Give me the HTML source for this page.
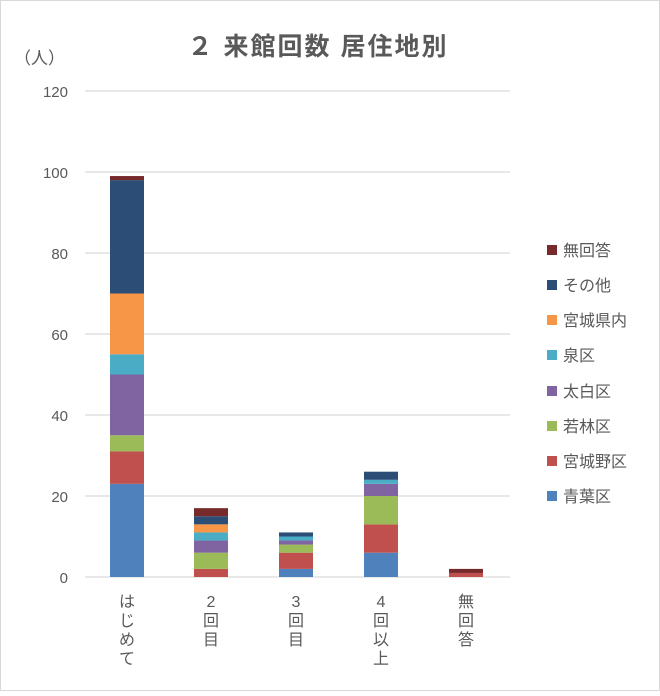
<!DOCTYPE html><html><head><meta charset="utf-8"><style>
body{margin:0;background:#fff;}
svg text{font-family:"Liberation Sans","Noto Sans CJK JP",sans-serif;}
</style></head><body>
<svg width="660" height="691" xmlns="http://www.w3.org/2000/svg">
<rect x="0.5" y="0.5" width="659" height="690" fill="#fff" stroke="#d9d9d9"/>
<text x="318" y="55" font-size="25" font-weight="bold" fill="#595959" text-anchor="middle" letter-spacing="2">２ 来館回数 居住地別</text>
<text x="14" y="64" font-size="17" fill="#595959">（人）</text>
<g stroke="#d9d9d9" stroke-width="1.3">
<line x1="85" x2="510" y1="91" y2="91"/><line x1="85" x2="510" y1="172" y2="172"/>
<line x1="85" x2="510" y1="253" y2="253"/><line x1="85" x2="510" y1="334" y2="334"/>
<line x1="85" x2="510" y1="415" y2="415"/><line x1="85" x2="510" y1="496" y2="496"/>
<line x1="85" x2="510" y1="577" y2="577"/></g>
<g font-size="15" fill="#595959" text-anchor="end">
<text x="68" y="97">120</text><text x="68" y="178">100</text><text x="68" y="259">80</text>
<text x="68" y="340">60</text><text x="68" y="421">40</text><text x="68" y="502">20</text><text x="68" y="583">0</text></g>
<g id="bars"></g>
<g font-size="16" fill="#595959" text-anchor="middle">
<text x="127" y="607">は</text><text x="127" y="626">じ</text><text x="127" y="645">め</text><text x="127" y="664">て</text>
<text x="211" y="607">2</text><text x="211" y="626">回</text><text x="211" y="645">目</text>
<text x="296" y="607">3</text><text x="296" y="626">回</text><text x="296" y="645">目</text>
<text x="381" y="607">4</text><text x="381" y="626">回</text><text x="381" y="645">以</text><text x="381" y="664">上</text>
<text x="466" y="607">無</text><text x="466" y="626">回</text><text x="466" y="645">答</text>
</g>
<g font-size="16" fill="#595959">
<rect x="547" y="245" width="10" height="10" fill="#772a2a"/><text x="563" y="256">無回答</text>
<rect x="547" y="280" width="10" height="10" fill="#2c4d75"/><text x="563" y="291">その他</text>
<rect x="547" y="315" width="10" height="10" fill="#f79646"/><text x="563" y="326">宮城県内</text>
<rect x="547" y="350" width="10" height="10" fill="#4bacc6"/><text x="563" y="361">泉区</text>
<rect x="547" y="386" width="10" height="10" fill="#8064a2"/><text x="563" y="397">太白区</text>
<rect x="547" y="421" width="10" height="10" fill="#9bbb59"/><text x="563" y="432">若林区</text>
<rect x="547" y="456" width="10" height="10" fill="#c0504d"/><text x="563" y="467">宮城野区</text>
<rect x="547" y="491" width="10" height="10" fill="#4f81bd"/><text x="563" y="502">青葉区</text>
</g>
</svg>
<script>
var cols=["#4f81bd","#c0504d","#9bbb59","#8064a2","#4bacc6","#f79646","#2c4d75","#772a2a"];
var data=[[23,8,4,15,5,15,28,1],[0,2,4,3,2,2,2,2],[2,4,2,1,1,0,1,0],[6,7,7,3,1,0,2,0],[0,1,0,0,0,0,0,1]];
var cx=[127,211,296,381,466],g=document.getElementById("bars"),s="";
data.forEach(function(d,i){var y=577;d.forEach(function(v,j){if(!v)return;var h=v*4.05;y-=h;s+='<rect x="'+(cx[i]-17)+'" y="'+y+'" width="34" height="'+h+'" fill="'+cols[j]+'"/>';});});
g.innerHTML=s;
</script>
</body></html>
